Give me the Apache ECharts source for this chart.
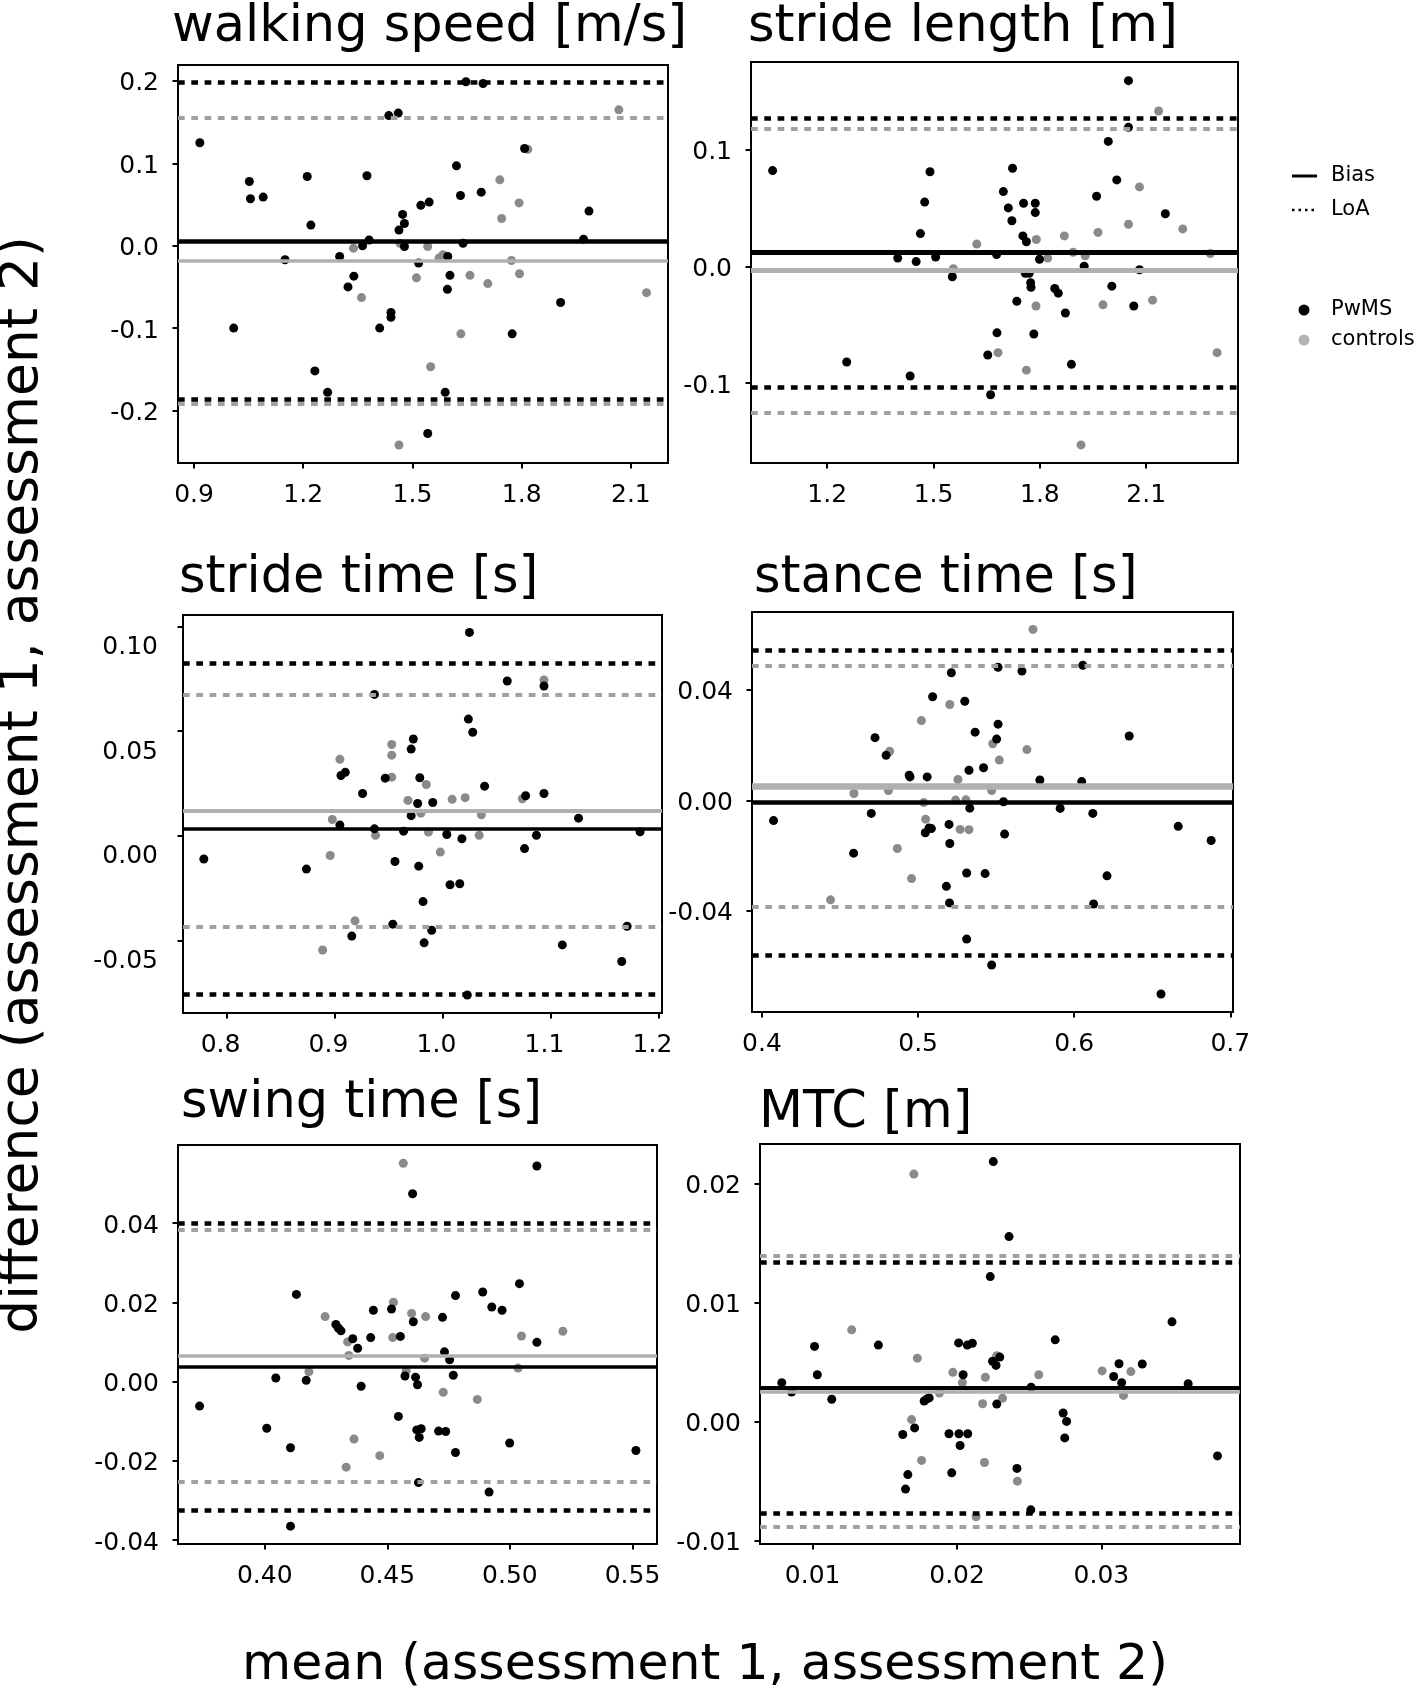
<!DOCTYPE html>
<html>
<head>
<meta charset="utf-8">
<title>Bland-Altman plots</title>
<script src="https://cdn.jsdelivr.net/npm/echarts@6/dist/echarts.min.js"></script>
<style>
  html, body { margin: 0; padding: 0; background: #fff; }
  #chart { width: 1417px; height: 1688px; }
</style>
</head>
<body>
<div id="chart"></div>
<script>
// [mean, difference] pairs
const speedPwms = [[0.916,0.125],[1.052,0.078],[1.055,0.057],[1.090,0.059],[1.211,0.084],[1.221,0.025],[1.375,0.085],[1.381,0.007],[1.363,0.000],[1.300,-0.013],[1.339,-0.037],[1.323,-0.050],[1.435,0.158],[1.461,0.161],[1.473,0.038],[1.478,0.027],[1.463,0.019],[1.478,-0.001],[1.523,0.049],[1.546,0.053],[1.517,-0.021],[1.441,-0.081],[1.441,-0.087],[1.410,-0.100],[1.232,-0.152],[1.267,-0.178],[1.542,-0.228],[1.590,-0.178],[1.621,0.097],[1.632,0.061],[1.639,0.003],[1.597,-0.013],[1.603,-0.036],[1.596,-0.053],[1.647,0.199],[1.694,0.197],[1.689,0.065],[1.808,0.118],[1.774,-0.107],[1.907,-0.069],[1.970,0.008],[1.985,0.042],[1.009,-0.100],[1.150,-0.017]];
const speedCtrl = [[1.338,-0.003],[1.360,-0.063],[1.466,0.003],[1.542,-0.001],[1.511,-0.039],[1.550,-0.147],[1.463,-0.242],[1.573,-0.015],[1.584,-0.011],[1.633,-0.107],[1.658,-0.036],[1.707,-0.046],[1.740,0.080],[1.745,0.033],[1.793,0.052],[1.772,-0.018],[1.794,-0.034],[1.817,0.117],[2.067,0.165],[2.143,-0.057]];
// [bias, lower LoA, upper LoA]
const speedLinesPwms = [0.006, -0.186, 0.198];
const speedLinesCtrl = [-0.018, -0.192, 0.155];
const speedXTicks = [0.9, 1.2, 1.5, 1.8, 2.1];
const speedYTicks = [-0.2, -0.1, 0, 0.1, 0.2];

const lengthPwms = [[1.046,0.082],[1.255,-0.082],[1.434,-0.094],[1.399,0.007],[1.451,0.004],[1.463,0.028],[1.475,0.055],[1.490,0.081],[1.506,0.008],[1.553,-0.009],[1.678,0.010],[1.679,-0.057],[1.653,-0.076],[1.661,-0.110],[1.697,0.064],[1.711,0.050],[1.721,0.039],[1.723,0.084],[1.735,-0.030],[1.752,0.026],[1.754,0.054],[1.762,0.021],[1.759,-0.006],[1.770,-0.006],[1.774,-0.014],[1.775,-0.018],[1.787,0.054],[1.787,0.046],[1.783,-0.058],[1.799,0.006],[1.842,-0.019],[1.852,-0.023],[1.872,-0.040],[1.889,-0.084],[1.925,0.000],[1.960,0.060],[1.993,0.107],[2.003,-0.017],[2.017,0.074],[2.050,0.159],[2.050,0.119],[2.065,-0.034],[2.081,-0.003],[2.154,0.045]];
const lengthCtrl = [[1.622,0.019],[1.556,-0.002],[1.682,-0.074],[1.762,-0.089],[1.790,0.023],[1.789,-0.034],[1.822,0.007],[1.869,0.026],[1.894,0.012],[1.928,0.009],[1.916,-0.153],[1.964,0.029],[1.978,-0.033],[2.050,0.036],[2.081,0.068],[2.118,-0.029],[2.135,0.133],[2.203,0.032],[2.281,0.011],[2.300,-0.074]];
const lengthLinesPwms = [0.0117, -0.104, 0.127];
const lengthLinesCtrl = [-0.0037, -0.1254, 0.118];
const lengthXTicks = [1.2, 1.5, 1.8, 2.1];
const lengthYTicks = [-0.1, 0, 0.1];

const strideTimePwms = [[0.779,-0.0111],[0.874,-0.0159],[0.905,0.0051],[0.906,0.0288],[0.910,0.0303],[0.916,-0.0479],[0.926,0.0202],[0.937,0.0675],[0.937,0.0033],[0.947,0.0275],[0.954,-0.0422],[0.956,-0.0123],[0.964,0.0022],[0.971,0.0414],[0.971,0.0096],[0.973,0.0462],[0.977,0.0154],[0.978,-0.0145],[0.979,0.0277],[0.982,-0.0314],[0.983,-0.0511],[0.990,-0.0451],[0.991,0.0159],[1.004,0.0006],[1.007,-0.0234],[1.016,-0.0229],[1.018,-0.0014],[1.023,-0.0760],[1.025,0.0971],[1.024,0.0557],[1.028,0.0494],[1.039,0.0237],[1.060,0.0739],[1.076,-0.0061],[1.077,0.0191],[1.087,0.0002],[1.094,0.0715],[1.094,0.0202],[1.111,-0.0521],[1.126,0.0084],[1.166,-0.0600],[1.171,-0.0432],[1.183,0.0019]];
const strideTimeCtrl = [[0.896,-0.0094],[0.898,0.0078],[0.905,0.0365],[0.919,-0.0406],[0.889,-0.0545],[0.938,0.0002],[0.953,0.0436],[0.953,0.0385],[0.953,0.0280],[0.968,0.0169],[0.980,0.0108],[0.985,0.0245],[0.987,0.0018],[0.998,-0.0078],[1.009,0.0174],[1.021,0.0182],[1.034,0.0002],[1.036,0.0100],[1.074,0.0177],[1.094,0.0744]];
const strideTimeLinesPwms = [0.0035, -0.0755, 0.0826];
const strideTimeLinesCtrl = [0.0119, -0.0435, 0.0672];
const strideTimeXTicks = [0.8, 0.9, 1.0, 1.1, 1.2];
const strideTimeYTicks = [-0.05, 0, 0.05, 0.1];

const stancePwms = [[0.4074,-0.0073],[0.4587,-0.0191],[0.4700,-0.0047],[0.4724,0.0227],[0.4795,0.0163],[0.4943,0.0091],[0.4948,0.0085],[0.5058,0.0085],[0.5046,-0.0117],[0.5070,-0.0100],[0.5085,-0.0102],[0.5093,0.0375],[0.5181,-0.0311],[0.5201,-0.0371],[0.5198,-0.0087],[0.5203,-0.0156],[0.5213,0.0462],[0.5299,0.0359],[0.5311,-0.0263],[0.5311,-0.0502],[0.5326,0.0109],[0.5331,-0.0028],[0.5365,0.0247],[0.5419,0.0118],[0.5429,-0.0265],[0.5471,-0.0596],[0.5503,0.0222],[0.5512,0.0276],[0.5512,0.0482],[0.5547,-0.0005],[0.5554,-0.0122],[0.5665,0.0468],[0.5780,0.0074],[0.5910,-0.0029],[0.6048,0.0068],[0.6055,0.0489],[0.6119,-0.0047],[0.6124,-0.0375],[0.6210,-0.0273],[0.6352,0.0233],[0.6556,-0.0701],[0.6666,-0.0094],[0.6877,-0.0145]];
const stanceCtrl = [[0.4439,-0.0360],[0.4589,0.0025],[0.4810,0.0036],[0.4818,0.0178],[0.4867,-0.0174],[0.4958,-0.0283],[0.5021,0.0289],[0.5036,-0.0008],[0.5048,-0.0068],[0.5203,0.0347],[0.5255,0.0076],[0.5240,0.0001],[0.5269,-0.0105],[0.5306,0.0002],[0.5326,-0.0106],[0.5471,0.0036],[0.5478,0.0205],[0.5520,0.0146],[0.5697,0.0184],[0.5736,0.0619]];
const stanceLinesPwms = [-0.0008, -0.0560, 0.0544];
const stanceLinesCtrl = [0.0052, -0.0385, 0.0489];
const stanceXTicks = [0.4, 0.5, 0.6, 0.7];
const stanceYTicks = [-0.04, 0, 0.04];

const swingPwms = [[0.3734,-0.0062],[0.4008,-0.0118],[0.4045,0.0009],[0.4105,-0.0167],[0.4105,-0.0365],[0.4129,0.0220],[0.4169,0.0003],[0.4290,0.0144],[0.4300,0.0135],[0.4311,0.0128],[0.4359,0.0108],[0.4379,0.0084],[0.4393,-0.0012],[0.4432,0.0111],[0.4443,0.0180],[0.4517,0.0183],[0.4545,-0.0088],[0.4553,0.0114],[0.4572,0.0014],[0.4603,0.0474],[0.4606,0.0151],[0.4615,0.0011],[0.4620,-0.0122],[0.4623,-0.0008],[0.4627,-0.0255],[0.4630,-0.0141],[0.4638,-0.0119],[0.4709,-0.0125],[0.4725,0.0162],[0.4733,0.0075],[0.4738,-0.0126],[0.4754,0.0055],[0.4769,0.0016],[0.4778,0.0217],[0.4778,-0.0179],[0.4889,0.0226],[0.4915,-0.0279],[0.4926,0.0188],[0.4968,0.0180],[0.4999,-0.0155],[0.5039,0.0247],[0.5110,0.0544],[0.5110,0.0099],[0.5514,-0.0174]];
const swingCtrl = [[0.4180,0.0025],[0.4246,0.0164],[0.4332,-0.0216],[0.4338,0.0100],[0.4343,0.0066],[0.4364,-0.0145],[0.4469,-0.0187],[0.4525,0.0200],[0.4522,0.0111],[0.4565,0.0551],[0.4577,0.0027],[0.4599,0.0172],[0.4656,0.0164],[0.4652,0.0059],[0.4728,-0.0027],[0.4867,-0.0045],[0.5033,0.0034],[0.5047,0.0115],[0.5216,0.0127]];
const swingLinesPwms = [0.0037, -0.0326, 0.0399];
const swingLinesCtrl = [0.0064, -0.0254, 0.0383];
const swingXTicks = [0.40, 0.45, 0.50, 0.55];
const swingYTicks = [-0.04, -0.02, 0, 0.02, 0.04];

const mtcPwms = [[0.00786,0.00325],[0.00854,0.00247],[0.01013,0.00630],[0.01032,0.00392],[0.01132,0.00186],[0.01455,0.00641],[0.01624,-0.00110],[0.01643,-0.00569],[0.01659,-0.00447],[0.01706,-0.00055],[0.01772,0.00171],[0.01791,0.00189],[0.01807,0.00197],[0.01944,-0.00104],[0.01963,-0.00432],[0.02011,0.00659],[0.02013,-0.00104],[0.02021,-0.00203],[0.02042,0.00392],[0.02071,0.00641],[0.02074,-0.00104],[0.02106,0.00656],[0.02230,0.01216],[0.02246,0.00505],[0.02251,0.02182],[0.02270,0.00470],[0.02275,0.00145],[0.02296,0.00540],[0.02360,0.01552],[0.02415,-0.00395],[0.02511,-0.00743],[0.02513,0.00287],[0.02680,0.00685],[0.02735,0.00070],[0.02759,0.00000],[0.02746,-0.00139],[0.03085,0.00377],[0.03122,0.00484],[0.03140,0.00325],[0.03283,0.00482],[0.03489,0.00836],[0.03601,0.00316],[0.03804,-0.00290]];
const mtcCtrl = [[0.01270,0.00769],[0.01685,0.00015],[0.01701,0.02077],[0.01725,0.00531],[0.01754,-0.00328],[0.01878,0.00238],[0.01971,0.00412],[0.02037,0.00325],[0.02177,0.00148],[0.02190,-0.00345],[0.02196,0.00371],[0.02275,0.00551],[0.02315,0.00194],[0.02132,-0.00801],[0.02418,-0.00502],[0.02566,0.00392],[0.03005,0.00424],[0.03153,0.00218],[0.03204,0.00418]];
const mtcLinesPwms = [0.00281, -0.00772, 0.01337];
const mtcLinesCtrl = [0.00249, -0.00886, 0.01395];
const mtcXTicks = [0.01, 0.02, 0.03];
const mtcYTicks = [-0.01, 0, 0.01, 0.02];

const FONT = 'DejaVu Sans';
const BLACK = '#000000';
const GRAY_PT = '#8a8a8a';
const GRAY_BIAS = '#b0b0b0';
const GRAY_LOA = '#a0a0a0';
const LOA_DASH = [6.7, 6.6];

// layout of each panel: box = [left, top, width, height] in px
const panels = [
    { title: 'walking speed [m/s]', titlePos: [172, 28], box: [178, 65, 490, 398],
      pwms: speedPwms, ctrl: speedCtrl, linesP: speedLinesPwms, linesC: speedLinesCtrl,
      xTicks: speedXTicks, yTicks: speedYTicks, xRange: [0.856, 2.202], yRange: [-0.2638, 0.2194],
      xDec: 1, yDec: 1, biasW: [4.5, 3.5] },
    { title: 'stride length [m]', titlePos: [748, 28], box: [751, 62, 487, 401],
      pwms: lengthPwms, ctrl: lengthCtrl, linesP: lengthLinesPwms, linesC: lengthLinesCtrl,
      xTicks: lengthXTicks, yTicks: lengthYTicks, xRange: [0.985, 2.359], yRange: [-0.1685, 0.175],
      xDec: 1, yDec: 1, biasW: [5, 5] },
    { title: 'stride time [s]', titlePos: [179, 579], box: [183, 615, 479, 398],
      pwms: strideTimePwms, ctrl: strideTimeCtrl, linesP: strideTimeLinesPwms, linesC: strideTimeLinesCtrl,
      xTicks: strideTimeXTicks, yTicks: strideTimeYTicks, xRange: [0.7597, 1.2033], yRange: [-0.0846, 0.1054],
      xDec: 1, yDec: 2, biasW: [3.5, 4], labelShift: true },
    { title: 'stance time [s]', titlePos: [754, 579], box: [752, 612, 481, 400],
      pwms: stancePwms, ctrl: stanceCtrl, linesP: stanceLinesPwms, linesC: stanceLinesCtrl,
      xTicks: stanceXTicks, yTicks: stanceYTicks, xRange: [0.3936, 0.7017], yRange: [-0.0766, 0.0682],
      xDec: 1, yDec: 2, biasW: [4.5, 6.5] },
    { title: 'swing time [s]', titlePos: [181, 1104], box: [178, 1145, 479, 399],
      pwms: swingPwms, ctrl: swingCtrl, linesP: swingLinesPwms, linesC: swingLinesCtrl,
      xTicks: swingXTicks, yTicks: swingYTicks, xRange: [0.3646, 0.560], yRange: [-0.0410, 0.0597],
      xDec: 2, yDec: 2, biasW: [3.5, 3.5] },
    { title: 'MTC [m]', titlePos: [759, 1114], box: [760, 1144, 480, 400],
      pwms: mtcPwms, ctrl: mtcCtrl, linesP: mtcLinesPwms, linesC: mtcLinesCtrl,
      xTicks: mtcXTicks, yTicks: mtcYTicks, xRange: [0.00635, 0.0396], yRange: [-0.0103, 0.0233],
      xDec: 2, yDec: 2, biasW: [4, 3.5] }
];

const chart = echarts.init(document.getElementById('chart'), null, { renderer: 'canvas' });

function refLines(vals, color, loaColor, biasWidth, loaWidth) {
    return {
        silent: true,
        precision: 6,
        symbol: ['none', 'none'],
        label: { show: false },
        emphasis: { disabled: true },
        data: [
            { yAxis: vals[0], lineStyle: { color: color, width: biasWidth, type: 'solid' } },
            { yAxis: vals[1], lineStyle: { color: loaColor, width: loaWidth, type: LOA_DASH, cap: 'butt' } },
            { yAxis: vals[2], lineStyle: { color: loaColor, width: loaWidth, type: LOA_DASH, cap: 'butt' } }
        ]
    };
}

const grid = [], xAxis = [], yAxis = [], series = [], graphic = [];

panels.forEach((p, i) => {
    grid.push({
        left: p.box[0], top: p.box[1], width: p.box[2], height: p.box[3],
        show: true, borderColor: BLACK, borderWidth: 2, backgroundColor: 'transparent'
    });
    // tick labels sit a little below their ticks; in the stride time panel
    // they are clearly lower and further left than the ticks
    xAxis.push({
        type: 'value', gridIndex: i, min: p.xRange[0], max: p.xRange[1],
        axisLine: { show: false, onZero: false },
        splitLine: { show: false },
        axisTick: { show: true, inside: false, length: 5.5, customValues: p.xTicks,
            lineStyle: { color: BLACK, width: 2 } },
        axisLabel: { customValues: p.xTicks, color: BLACK, fontSize: 25, fontFamily: FONT, margin: 20,
            padding: p.labelShift ? [0, 12, 0, 0] : 0,
            formatter: v => Number(v).toFixed(p.xDec) }
    });
    yAxis.push({
        type: 'value', gridIndex: i, min: p.yRange[0], max: p.yRange[1],
        axisLine: { show: false, onZero: false },
        splitLine: { show: false },
        axisTick: { show: true, inside: false, length: 5.5, customValues: p.yTicks,
            lineStyle: { color: BLACK, width: 2 } },
        axisLabel: { customValues: p.yTicks, color: BLACK, fontSize: 25, fontFamily: FONT,
            margin: p.labelShift ? 25 : 19,
            lineHeight: p.labelShift ? 42 : 6,
            formatter: v => '\n' + Number(v).toFixed(p.yDec) }
    });
    series.push({
        type: 'scatter', xAxisIndex: i, yAxisIndex: i, data: p.ctrl, symbolSize: 9, z: 2,
        itemStyle: { color: GRAY_PT, opacity: 1 },
        markLine: refLines(p.linesC, GRAY_BIAS, GRAY_LOA, p.biasW[1], 4)
    });
    series.push({
        type: 'scatter', xAxisIndex: i, yAxisIndex: i, data: p.pwms, symbolSize: 9, z: 3,
        itemStyle: { color: BLACK, opacity: 1 },
        markLine: refLines(p.linesP, BLACK, BLACK, p.biasW[0], 4.5)
    });
    graphic.push({
        type: 'text', left: p.titlePos[0], top: p.titlePos[1] - 26,
        style: { text: p.title, fill: BLACK, font: '51px "' + FONT + '"' }
    });
});

// axis titles
graphic.push({
    type: 'text', x: 23, y: 785, rotation: Math.PI / 2,
    style: { text: 'difference (assessment 1, assessment 2)', fill: BLACK, font: '53.5px "' + FONT + '"',
        align: 'center', verticalAlign: 'middle' }
});
graphic.push({
    type: 'text', x: 705, y: 1666,
    style: { text: 'mean (assessment 1, assessment 2)', fill: BLACK, font: '50.5px "' + FONT + '"',
        align: 'center', verticalAlign: 'middle' }
});

// legend
graphic.push(
    { type: 'line', shape: { x1: 1292, y1: 176, x2: 1317, y2: 176 }, style: { stroke: BLACK, lineWidth: 3 } },
    { type: 'text', x: 1331, y: 176, style: { text: 'Bias', fill: BLACK, font: '21px "' + FONT + '"', verticalAlign: 'middle' } },
    { type: 'line', shape: { x1: 1292, y1: 210, x2: 1317, y2: 210 }, style: { stroke: BLACK, lineWidth: 2.5, lineDash: [2.5, 4] } },
    { type: 'text', x: 1331, y: 210, style: { text: 'LoA', fill: BLACK, font: '21px "' + FONT + '"', verticalAlign: 'middle' } },
    { type: 'circle', shape: { cx: 1304, cy: 310, r: 5.5 }, style: { fill: BLACK } },
    { type: 'text', x: 1331, y: 310, style: { text: 'PwMS', fill: BLACK, font: '21px "' + FONT + '"', verticalAlign: 'middle' } },
    { type: 'circle', shape: { cx: 1304, cy: 340, r: 5.5 }, style: { fill: '#b3b3b3' } },
    { type: 'text', x: 1331, y: 340, style: { text: 'controls', fill: BLACK, font: '21px "' + FONT + '"', verticalAlign: 'middle' } }
);

chart.setOption({
    animation: false,
    backgroundColor: '#ffffff',
    textStyle: { fontFamily: FONT },
    grid: grid,
    xAxis: xAxis,
    yAxis: yAxis,
    series: series,
    graphic: graphic
});
</script>
</body>
</html>
